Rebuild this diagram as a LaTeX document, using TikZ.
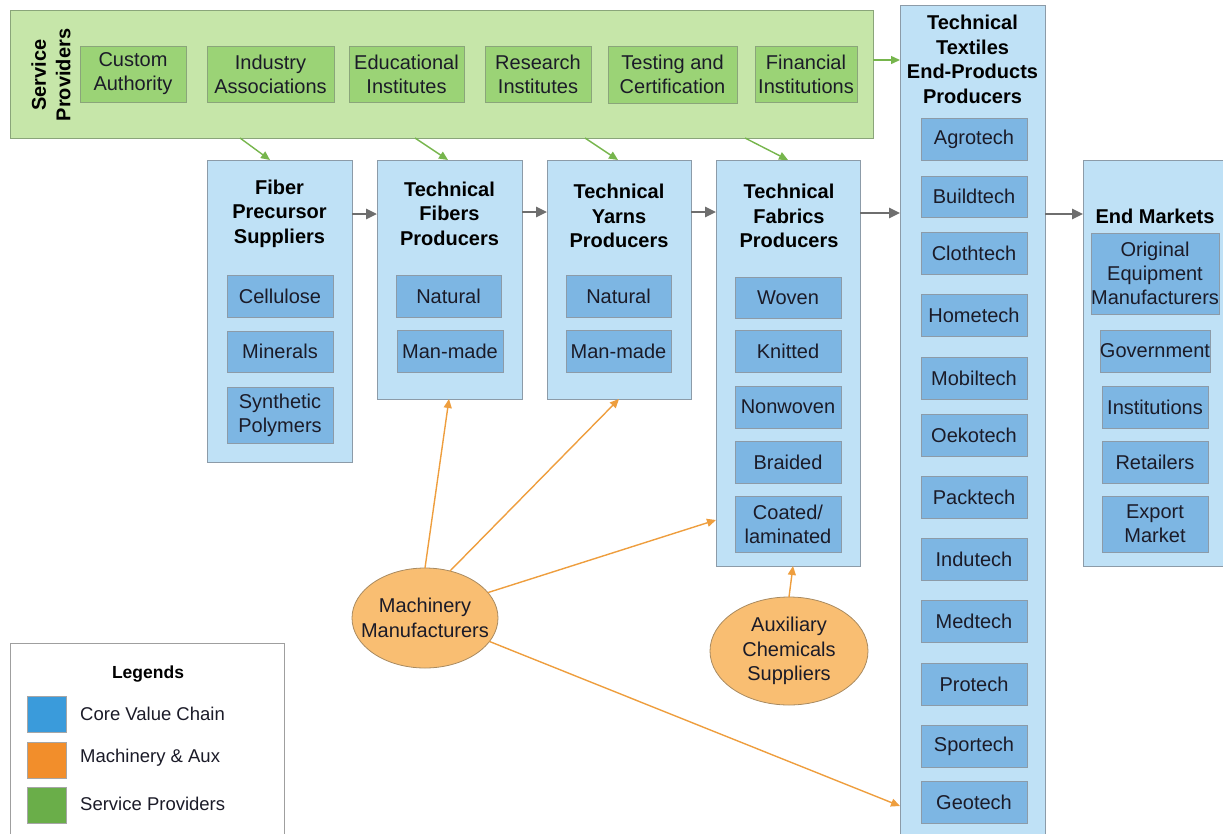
\documentclass[tikz,border=0pt]{standalone}
\usepackage{fontspec}
\setmainfont{Liberation Sans}
\usetikzlibrary{arrows.meta,shapes.geometric}

\definecolor{paneblue}{HTML}{BFE1F6}
\definecolor{itemblue}{HTML}{7DB6E3}
\definecolor{paneborder}{HTML}{8C9BA8}
\definecolor{panegreen}{HTML}{C6E6A9}
\definecolor{itemgreen}{HTML}{9BD376}
\definecolor{greenborder}{HTML}{8AA57A}
\definecolor{ovalorange}{HTML}{F9BE72}
\definecolor{ovalborder}{HTML}{A88A60}
\definecolor{arrowgreen}{HTML}{76B54C}
\definecolor{arrowgray}{HTML}{6E6E6E}
\definecolor{arroworange}{HTML}{EE9E3E}
\definecolor{keyblue}{HTML}{3A9BDB}
\definecolor{keyorange}{HTML}{F28E2B}
\definecolor{keygreen}{HTML}{6AAE49}
\definecolor{inktext}{HTML}{1B1B28}

\tikzset{
  pane/.style={draw=paneborder, fill=paneblue, line width=1pt, inner sep=0pt, outer sep=0pt},
  item/.style={draw=paneborder, fill=itemblue, line width=0.8pt, inner sep=0pt, outer sep=0pt,
    align=center, text=inktext, font=\fontsize{20}{24}\selectfont},
  svcpane/.style={draw=greenborder, fill=panegreen, line width=1pt, inner sep=0pt, outer sep=0pt},
  svcitem/.style={draw=greenborder, fill=itemgreen, line width=0.8pt, inner sep=0pt, outer sep=0pt,
    align=center, text=inktext, font=\fontsize{20}{24}\selectfont},
  title/.style={align=center, inner sep=0pt, text=black, font=\bfseries\fontsize{20}{24.5}\selectfont},
  oval/.style={ellipse, draw=ovalborder, fill=ovalorange, line width=0.8pt, inner sep=0pt, outer sep=0pt},
  ovaltext/.style={align=center, inner sep=0pt, text=inktext, font=\fontsize{20}{24.5}\selectfont},
  svcarrow/.style={draw=arrowgreen, line width=1.4pt, -{Triangle[length=9pt,width=8pt]}},
  flowarrow/.style={draw=arrowgray, line width=2.6pt, -{Triangle[length=11pt,width=10pt]}},
  macharrow/.style={draw=arroworange, line width=1.4pt, -{Triangle[length=9pt,width=8pt]}},
  keyswatch/.style={draw=gray!70, line width=0.6pt, minimum width=39pt, minimum height=36pt, inner sep=0pt},
  keytext/.style={anchor=west, inner sep=0pt, text=inktext, font=\fontsize{18.5}{22}\selectfont},
}

% rectangle node from its corners: name, x1, y1, x2, y2, style, text
\newcommand\cornerbox[7]{%
  \node[#6, minimum width={#4-#2}, minimum height={#5-#3}] (#1) at ({(#2+#4)/2},{(#3+#5)/2}) {#7};}

\begin{document}
\begin{tikzpicture}[x=1pt,y=-1pt]
\useasboundingbox (0,0) rectangle (1223,833);

% ---------- service providers ----------
\cornerbox{svc}{10}{10}{873}{138}{svcpane}{}
\node[title, rotate=90] (svctitle) at (51,75) {Service\\Providers};
\cornerbox{customs}{80}{46}{186}{102}{svcitem}{Custom\\Authority}
\cornerbox{assoc}{207}{46}{334}{102}{svcitem}{Industry\\Associations}
\cornerbox{edu}{349}{46}{464}{102}{svcitem}{Educational\\Institutes}
\cornerbox{research}{485}{46}{591}{102}{svcitem}{Research\\Institutes}
\cornerbox{testing}{608}{46}{737}{103}{svcitem}{Testing and\\Certification}
\cornerbox{finance}{755}{46}{857}{102}{svcitem}{Financial\\Institutions}

% ---------- fiber precursor suppliers ----------
\cornerbox{fps}{207}{160}{352}{462}{pane}{}
\node[title] (fpstitle) at (279.5,213.5) {Fiber\\Precursor\\Suppliers};
\cornerbox{cellulose}{227}{275}{333}{317}{item}{Cellulose}
\cornerbox{minerals}{227}{331}{333}{372}{item}{Minerals}
\cornerbox{polymers}{227}{387}{333}{443}{item}{Synthetic\\Polymers}

% ---------- technical fibers producers ----------
\cornerbox{tfp}{377}{160}{522}{399}{pane}{}
\node[title] (tfptitle) at (449.5,213.5) {Technical\\Fibers\\Producers};
\cornerbox{fnatural}{396}{275}{501}{317}{item}{Natural}
\cornerbox{fmanmade}{397}{330}{503}{372}{item}{Man-made}

% ---------- technical yarns producers ----------
\cornerbox{typ}{547}{160}{691}{399}{pane}{}
\node[title] (typtitle) at (619,216) {Technical\\Yarns\\Producers};
\cornerbox{ynatural}{566}{275}{671}{317}{item}{Natural}
\cornerbox{ymanmade}{566}{330}{671}{372}{item}{Man-made}

% ---------- technical fabrics producers ----------
\cornerbox{tfab}{716}{160}{860}{566}{pane}{}
\node[title] (tfabtitle) at (789,216) {Technical\\Fabrics\\Producers};
\cornerbox{woven}{735}{277}{841}{318}{item}{Woven}
\cornerbox{knitted}{735}{330}{841}{372}{item}{Knitted}
\cornerbox{nonwoven}{735}{386}{841}{428}{item}{Nonwoven}
\cornerbox{braided}{735}{441}{841}{483}{item}{Braided}
\cornerbox{coated}{735}{496}{841}{552}{item}{Coated/\\laminated}

% ---------- technical textiles end-products producers ----------
\cornerbox{ttp}{900}{5}{1045}{840}{pane}{}
\node[title] (ttptitle) at (972.5,59.5) {Technical\\Textiles\\End-Products\\Producers};
\cornerbox{agro}{921}{118}{1027}{160}{item}{Agrotech}
\cornerbox{build}{921}{176}{1027}{217}{item}{Buildtech}
\cornerbox{cloth}{921}{232}{1027}{274}{item}{Clothtech}
\cornerbox{home}{921}{294}{1027}{336}{item}{Hometech}
\cornerbox{mobil}{921}{357}{1027}{399}{item}{Mobiltech}
\cornerbox{oeko}{921}{414}{1027}{456}{item}{Oekotech}
\cornerbox{pack}{921}{476}{1027}{518}{item}{Packtech}
\cornerbox{indu}{921}{538}{1027}{580}{item}{Indutech}
\cornerbox{med}{921}{600}{1027}{642}{item}{Medtech}
\cornerbox{pro}{921}{663}{1027}{705}{item}{Protech}
\cornerbox{sport}{921}{725}{1027}{767}{item}{Sportech}
\cornerbox{geo}{921}{781}{1027}{823}{item}{Geotech}

% ---------- end markets ----------
\cornerbox{market}{1083}{160}{1230}{566}{pane}{}
\node[title] (markettitle) at (1155,216) {End Markets};
\cornerbox{oem}{1102}{233}{1208}{314}{item}{Original\\Equipment\\Manufacturers}
\cornerbox{gov}{1102}{330}{1208}{372}{item}{Government}
\cornerbox{inst}{1102}{386}{1208}{428}{item}{Institutions}
\cornerbox{retail}{1102}{441}{1208}{483}{item}{Retailers}
\cornerbox{export}{1102}{496}{1208}{552}{item}{Export\\Market}

% ---------- machinery and auxiliaries ----------
\node[oval, minimum width=146pt, minimum height=100pt] (mach) at (425,618) {};
\node[ovaltext] (machtext) at (mach.center) {Machinery\\Manufacturers};
\node[oval, minimum width=158pt, minimum height=108pt] (aux) at (789,651) {};
\node[ovaltext] (auxtext) at (aux.center) {Auxiliary\\Chemicals\\Suppliers};

% ---------- core flow ----------
\draw[flowarrow] (fps.east |- 0,214) -- (tfp.west |- 0,214);
\draw[flowarrow] (tfp.east |- 0,212) -- (typ.west |- 0,212);
\draw[flowarrow] (typ.east |- 0,212) -- (tfab.west |- 0,212);
\draw[flowarrow] (tfab.east |- 0,213) -- (ttp.west |- 0,213);
\draw[flowarrow] (ttp.east |- 0,214) -- (market.west |- 0,214);

% ---------- service links ----------
\draw[svcarrow] (svc.east |- 0,60) -- (ttp.west |- 0,60);
\draw[svcarrow] (svc.south -| 240,0) -- (fps.north -| 270,0);
\draw[svcarrow] (svc.south -| 415,0) -- (tfp.north -| 448,0);
\draw[svcarrow] (svc.south -| 585,0) -- (typ.north -| 618,0);
\draw[svcarrow] (svc.south -| 745,0) -- (tfab.north -| 788,0);

% ---------- machinery links ----------
\draw[macharrow] (mach.north) -- (tfp.south -| 449,0);
\draw[macharrow] (mach.62) -- (typ.south -| 619,0);
\draw[macharrow] (mach.22) -- (tfab.west |- 0,520);
\draw[macharrow] (mach.-20) -- (ttp.west |- 0,806);
\draw[macharrow] (aux.north) -- (tfab.south -| 793,0);

% ---------- legend ----------
\cornerbox{legend}{10}{643}{284}{840}{draw=gray!75, fill=white, line width=0.8pt, inner sep=0pt}{}
\node[inner sep=0pt, font=\bfseries\fontsize{17.5}{21}\selectfont] (legendtitle) at (148,674) {Legends};
\node[keyswatch, fill=keyblue] (keycore) at (46.5,714.5) {};
\node[keyswatch, fill=keyorange] (keymach) at (46.5,760) {};
\node[keyswatch, fill=keygreen] (keysvc) at (46.5,805) {};
\node[keytext] (keycoretext) at (80,714) {Core Value Chain};
\node[keytext] (keymachtext) at (80,758) {Machinery \& Aux};
\node[keytext] (keysvctext) at (80,804) {Service Providers};
\end{tikzpicture}
\end{document}
